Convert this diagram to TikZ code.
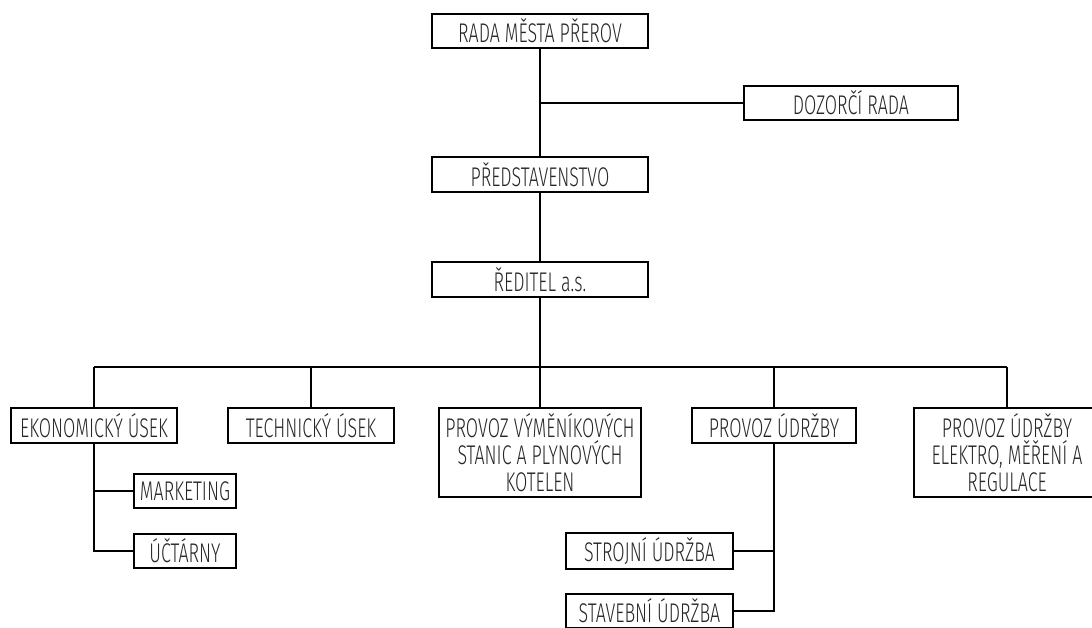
\documentclass[tikz,border=0pt]{standalone}
\usepackage{fontspec}
\newfontfamily\cadfont[FakeStretch=0.66]{Fira Sans Light}
\tikzset{
  unit/.style={draw, line width=1.8pt, inner sep=0pt, align=center,
    font=\cadfont\fontsize{27}{27}\selectfont, text=black!85},
  wide/.style={minimum width=216pt, minimum height=35pt},
  conn/.style={line width=1.9pt},
}
\begin{document}
\begin{tikzpicture}[x=1pt,y=-1pt]
    \useasboundingbox (0,0) rectangle (1092,628);
    % top of the tree
    \node[unit, wide, minimum height=34pt] (rada) at (540,31) {RADA MĚSTA PŘEROV};
    \node[unit, minimum width=214pt, minimum height=34pt] (dozor) at (851,103) {DOZORČÍ RADA};
    \node[unit, wide] (pred) at (540,174.5) {PŘEDSTAVENSTVO};
    \node[unit, wide] (red) at (540,279.5) {ŘEDITEL a.s.};
    % sections
    \node[unit, minimum width=166pt, minimum height=35pt] (ekon) at (94,425.5) {EKONOMICKÝ ÚSEK};
    \node[unit, minimum width=166pt, minimum height=35pt] (tech) at (311,425.5) {TECHNICKÝ ÚSEK};
    \node[unit, minimum width=202pt, minimum height=89pt] (vym) at (540,452.5) {PROVOZ VÝMĚNÍKOVÝCH\\STANIC A PLYNOVÝCH\\KOTELEN};
    \node[unit, minimum width=164pt, minimum height=35pt] (udr) at (774,425.5) {PROVOZ ÚDRŽBY};
    \node[unit, minimum width=186pt, minimum height=89pt] (elek) at (1007,452.5) {PROVOZ ÚDRŽBY\\ELEKTRO, MĚŘENÍ A\\REGULACE};
    % sub units
    \node[unit, minimum width=102pt, minimum height=34pt] (mark) at (185,491) {MARKETING};
    \node[unit, minimum width=102pt, minimum height=34pt] (uct) at (185,551) {ÚČTÁRNY};
    \node[unit, minimum width=167pt, minimum height=36pt] (stroj) at (649.5,551) {STROJNÍ ÚDRŽBA};
    \node[unit, minimum width=167pt, minimum height=34pt] (stav) at (649.5,611) {STAVEBNÍ ÚDRŽBA};
    % connectors
    \coordinate (bus) at (540,367);
    \draw[conn] (rada.south) -- (pred.north);
    \draw[conn] (rada.south |- dozor.west) -- (dozor.west);
    \draw[conn] (pred.south) -- (red.north);
    \draw[conn] (red.south) -- (bus);
    \draw[conn] (ekon.north |- bus) -- (elek.north |- bus);
    \foreach \b in {ekon, tech, vym, udr, elek} {
        \draw[conn] (\b.north |- bus) -- (\b.north);
    }
    \draw[conn] (ekon.south) -- (ekon.south |- uct.west) -- (uct.west);
    \draw[conn] (ekon.south |- mark.west) -- (mark.west);
    \draw[conn] (udr.south) -- (udr.south |- stav.east) -- (stav.east);
    \draw[conn] (udr.south |- stroj.east) -- (stroj.east);
\end{tikzpicture}
\end{document}
